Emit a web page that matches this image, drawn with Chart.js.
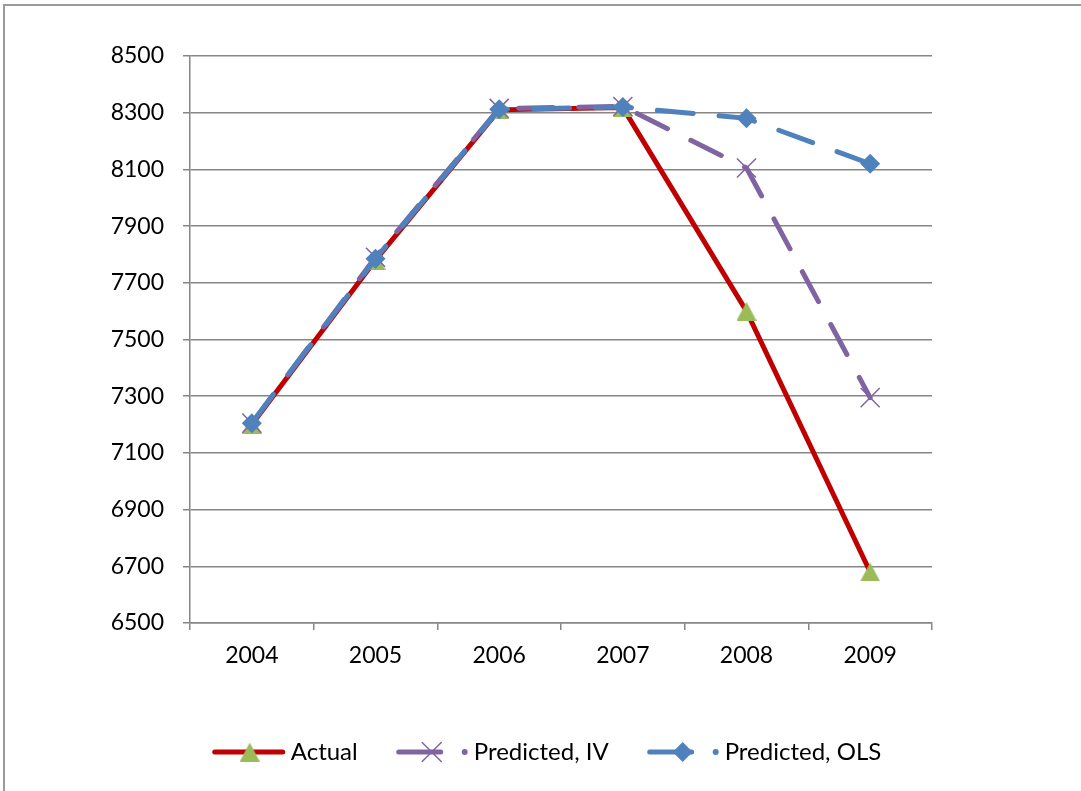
<!DOCTYPE html>
<html>
<head>
<meta charset="utf-8">
<script src="https://cdn.jsdelivr.net/npm/chart.js@4/dist/chart.umd.min.js"></script>
<style>
  html, body { margin: 0; padding: 0; background: #fff; overflow: hidden; }
  #frame { position: absolute; left: 3px; top: 4px; width: 1200px; height: 900px;
           border-left: 2px solid #9a9a9a; border-top: 2px solid #9a9a9a; }
  #wrap { position: absolute; left: 0; top: 0; width: 1081px; height: 791px; }
</style>
</head>
<body>
<div id="frame"></div>
<div id="wrap"><canvas id="c" width="1081" height="791"></canvas></div>
<script>
// Years on the horizontal axis
const years = ['2004', '2005', '2006', '2007', '2008', '2009'];

// Observed values and the two model predictions
const actual       = [7200, 7780, 8310, 8318, 7600, 6680];
const predictedIV  = [7205, 7790, 8315, 8322, 8105, 7295];
const predictedOLS = [7205, 7785, 8312, 8320, 8280, 8120];

// Vertical axis range and step
const yMin = 6500;
const yMax = 8500;
const yStep = 200;

const FONT_FAMILY = 'Lato, "Open Sans", sans-serif';
const FONT_SIZE = 23;
const KEY_FONT_SIZE = 24;
const AXIS_GREY = '#868686';

const RED = '#C00000';
const GREEN = '#9BBB59';
const PURPLE = '#8064A2';
const BLUE = '#4F81BD';

// Upward triangle whose bounding box is centred on the data point
function triangleSprite(color, w, h) {
  const cv = document.createElement('canvas');
  cv.width = w; cv.height = h;
  const g = cv.getContext('2d');
  g.fillStyle = color;
  g.beginPath();
  g.moveTo(w / 2, 0);
  g.lineTo(w, h);
  g.lineTo(0, h);
  g.closePath();
  g.fill();
  return cv;
}
const triangleMarker = triangleSprite(GREEN, 20, 19);

// Marker shapes for the key below the plot
function drawMarker(ctx, style, x, y, r, color) {
  ctx.save();
  ctx.fillStyle = color;
  ctx.strokeStyle = color;
  ctx.beginPath();
  if (style instanceof HTMLCanvasElement) {
    ctx.drawImage(style, x - style.width / 2, y - style.height / 2);
  } else if (style === 'rectRot') {
    ctx.moveTo(x - r, y);
    ctx.lineTo(x, y - r);
    ctx.lineTo(x + r, y);
    ctx.lineTo(x, y + r);
    ctx.closePath();
    ctx.fill();
  } else if (style === 'crossRot') {
    const d = r * Math.SQRT1_2;
    ctx.lineWidth = 1.5;
    ctx.moveTo(x - d, y - d); ctx.lineTo(x + d, y + d);
    ctx.moveTo(x + d, y - d); ctx.lineTo(x - d, y + d);
    ctx.stroke();
  }
  ctx.restore();
}

const seriesKey = {
  id: 'seriesKey',
  afterDraw(chart) {
    const ctx = chart.ctx;
    const y = 752;
    ctx.save();
    ctx.font = KEY_FONT_SIZE + 'px ' + FONT_FAMILY;
    ctx.textBaseline = 'middle';
    ctx.fillStyle = '#000';

    const items = chart.data.datasets.map(ds => ({
      text: ds.label,
      color: ds.borderColor,
      markerColor: ds.pointBackgroundColor,
      style: ds.pointStyle,
      radius: ds.pointRadius,
      dashed: Array.isArray(ds.borderDash) && ds.borderDash.length > 0
    }));

    // width of each item: sample + text
    const parts = items.map(it => {
      const sample = it.dashed ? 77 : 78;
      return sample + ctx.measureText(it.text).width;
    });
    const gap = 39;
    const total = parts.reduce((a, b) => a + b, 0) + gap * (parts.length - 1);
    let x = 547 - total / 2;

    items.forEach((it, i) => {
      ctx.lineCap = 'round';
      ctx.lineWidth = 5;
      ctx.strokeStyle = it.color;
      if (!it.dashed) {
        ctx.beginPath();
        ctx.moveTo(x + 2, y); ctx.lineTo(x + 70, y);
        ctx.stroke();
        drawMarker(ctx, it.style, x + 37, y, it.radius, it.markerColor);
        ctx.fillStyle = '#000';
        ctx.fillText(it.text, x + 78, y);
      } else {
        ctx.beginPath();
        ctx.moveTo(x + 2, y); ctx.lineTo(x + 44, y);
        ctx.stroke();
        drawMarker(ctx, it.style, x + 35, y, it.radius, it.markerColor);
        ctx.fillStyle = it.color;
        ctx.beginPath();
        ctx.arc(x + 68, y, 3, 0, Math.PI * 2);
        ctx.fill();
        ctx.fillStyle = '#000';
        ctx.fillText(it.text, x + 77, y);
      }
      x += parts[i] + gap;
    });
    ctx.restore();
  }
};

new Chart(document.getElementById('c'), {
  type: 'line',
  data: {
    labels: years,
    datasets: [
      {
        label: 'Actual',
        data: actual,
        borderColor: RED,
        borderWidth: 5,
        pointStyle: triangleMarker,
        pointRadius: 10,
        pointBackgroundColor: GREEN,
        pointBorderColor: GREEN,
        pointBorderWidth: 0,
        tension: 0,
        order: 3
      },
      {
        label: 'Predicted, IV',
        data: predictedIV,
        borderColor: PURPLE,
        borderWidth: 5,
        borderDash: [34, 26],
        borderCapStyle: 'round',
        pointStyle: 'crossRot',
        pointRadius: 13.5,
        pointBackgroundColor: PURPLE,
        pointBorderColor: PURPLE,
        pointBorderWidth: 1.5,
        tension: 0,
        order: 2
      },
      {
        label: 'Predicted, OLS',
        data: predictedOLS,
        borderColor: BLUE,
        borderWidth: 5,
        borderDash: [36, 26],
        borderCapStyle: 'round',
        pointStyle: 'rectRot',
        pointRadius: 10,
        pointBackgroundColor: BLUE,
        pointBorderColor: BLUE,
        pointBorderWidth: 0,
        tension: 0,
        order: 1
      }
    ]
  },
  options: {
    responsive: false,
    animation: false,
    events: [],
    layout: { padding: { left: 0, right: 149, top: 56, bottom: 108 } },
    plugins: { legend: { display: false }, tooltip: { enabled: false } },
    scales: {
      x: {
        type: 'category',
        offset: true,
        grid: {
          display: true,
          offset: true,
          drawOnChartArea: false,
          drawTicks: true,
          tickLength: 7,
          color: AXIS_GREY,
          lineWidth: 1.5
        },
        border: { color: AXIS_GREY, width: 1.5 },
        ticks: {
          color: '#000',
          padding: 12,
          font: { family: FONT_FAMILY, size: FONT_SIZE },
          maxRotation: 0
        },
        afterFit(scale) { scale.height = 60; }
      },
      y: {
        min: yMin,
        max: yMax,
        grid: {
          color: AXIS_GREY,
          lineWidth: 1.5,
          drawTicks: true,
          tickLength: 7
        },
        border: { color: AXIS_GREY, width: 1.5 },
        ticks: {
          stepSize: yStep,
          color: '#000',
          padding: 19,
          font: { family: FONT_FAMILY, size: FONT_SIZE },
          callback: (v) => String(v)
        },
        afterFit(scale) { scale.width = 190; }
      }
    }
  },
  plugins: [seriesKey]
});
</script>
</body>
</html>
